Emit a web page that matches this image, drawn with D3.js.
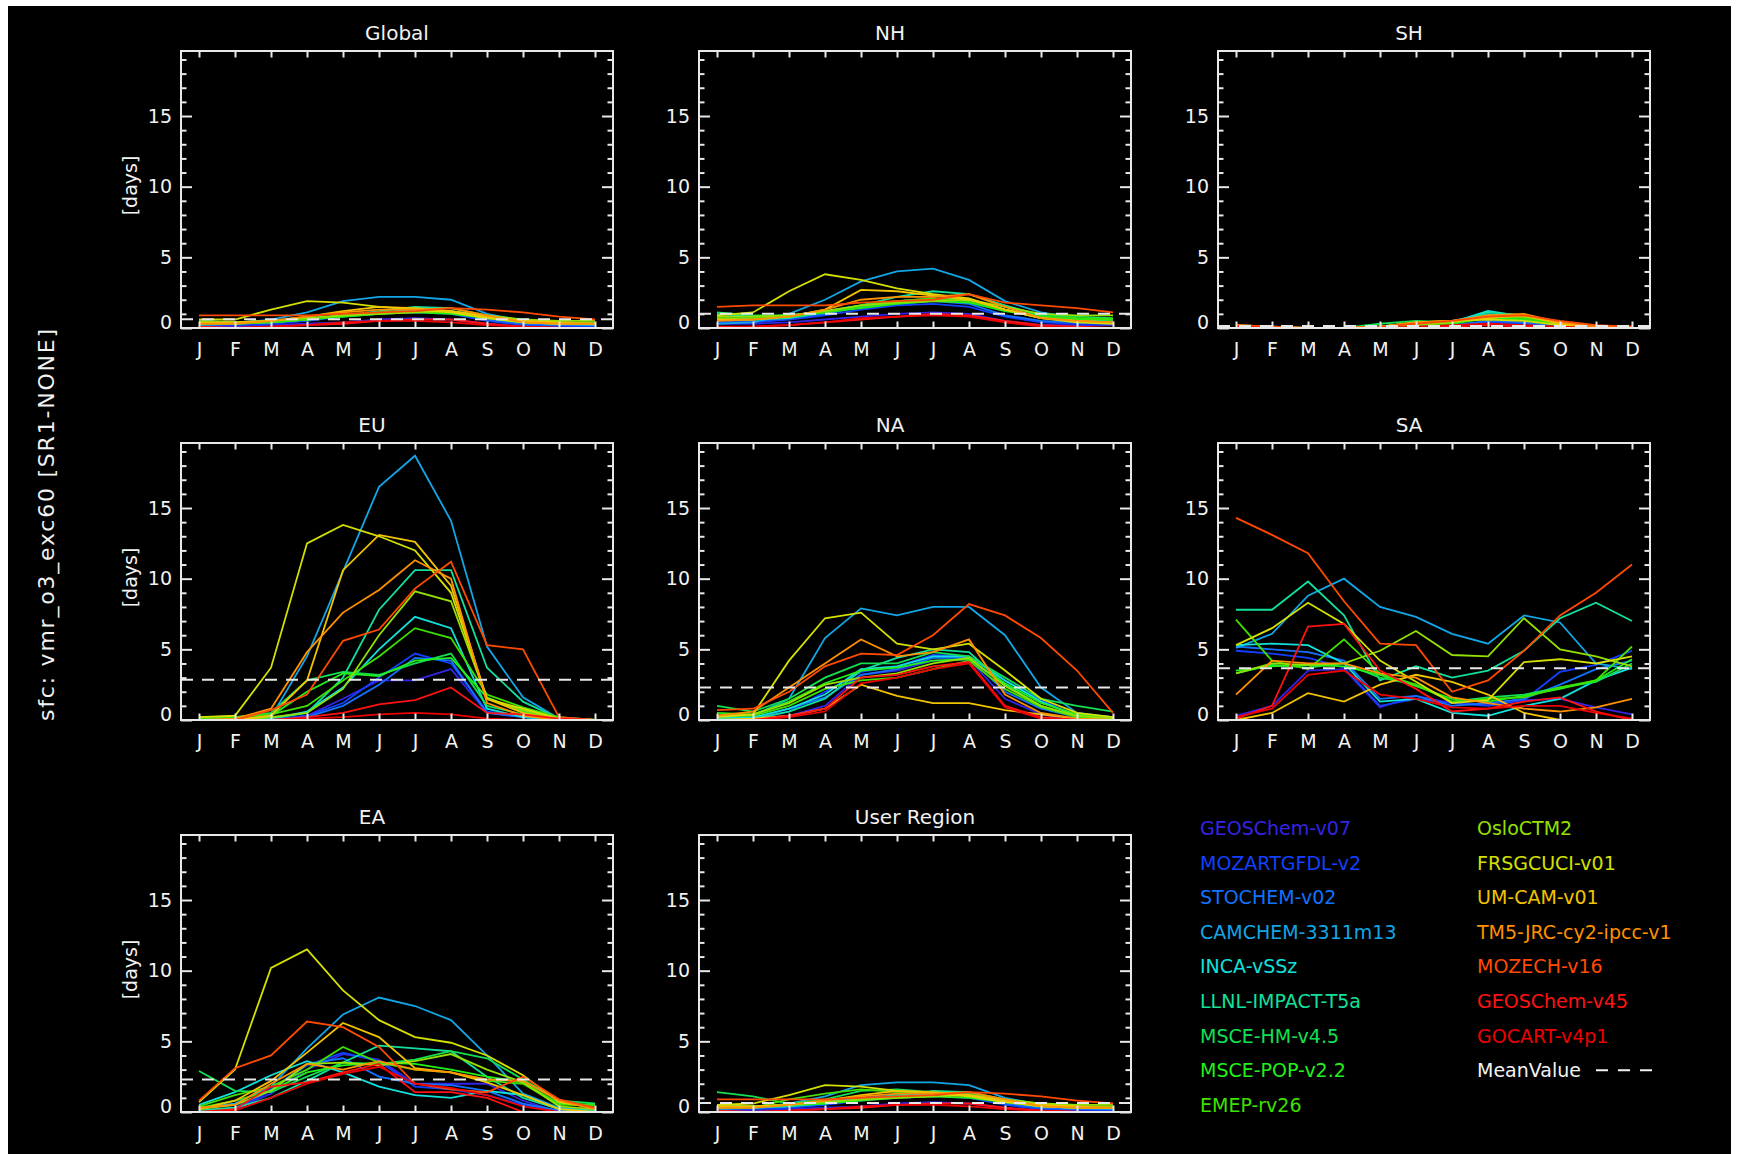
<!DOCTYPE html>
<html>
<head>
<meta charset="utf-8">
<script src="https://cdn.jsdelivr.net/npm/d3@7"></script>
<style>
  body { margin: 0; background: #ffffff; }
  text { font-family: "DejaVu Sans", sans-serif; fill: #f2f2f2; }
</style>
</head>
<body>
<div id="chart-area"></div>
<script>
// months and models
var months = ["J", "F", "M", "A", "M", "J", "J", "A", "S", "O", "N", "D"];
var models = ["GEOSChem-v07", "MOZARTGFDL-v2", "STOCHEM-v02", "CAMCHEM-3311m13", "INCA-vSSz",
  "LLNL-IMPACT-T5a", "MSCE-HM-v4.5", "MSCE-POP-v2.2", "EMEP-rv26", "OsloCTM2", "FRSGCUCI-v01",
  "UM-CAM-v01", "TM5-JRC-cy2-ipcc-v1", "MOZECH-v16", "GEOSChem-v45", "GOCART-v4p1"];
var modelColors = ["#3424e6", "#1240ff", "#1272ff", "#12a6e6", "#12e0dc", "#12e09c", "#12e052",
  "#22f018", "#3ee000", "#94e000", "#d4e000", "#f2c400", "#ff9000", "#ff4a00", "#ff1212", "#ee0000"];

var regions = ["Global", "NH", "SH", "EU", "NA", "SA", "EA", "User Region"];
var meanValues = [0.62, 1.0, 0.15, 2.85, 2.3, 3.66, 2.3, 0.63];
var yMajorTicks = [0, 5, 10, 15];

// days per month, one row per model (same order as models)
var valsGlobal = [
  [0.1,0.1,0.2,0.3,0.4,0.6,0.7,0.6,0.3,0.1,0.1,0.1],
  [0.2,0.2,0.3,0.5,0.8,1.0,1.1,1.0,0.5,0.2,0.2,0.1],
  [0.3,0.3,0.4,0.6,0.9,1.1,1.2,1.2,0.6,0.3,0.2,0.2],
  [0.2,0.3,0.6,1.1,1.9,2.2,2.2,2.0,1.0,0.5,0.3,0.2],
  [0.5,0.4,0.5,0.7,0.9,1.1,1.3,1.2,0.8,0.4,0.3,0.3],
  [0.3,0.3,0.4,0.6,0.9,1.2,1.5,1.4,0.9,0.5,0.3,0.3],
  [0.5,0.4,0.4,0.6,0.8,1.0,1.2,1.1,0.8,0.5,0.4,0.4],
  [0.4,0.4,0.5,0.6,0.8,1.0,1.1,1.0,0.7,0.4,0.3,0.3],
  [0.3,0.3,0.4,0.6,0.9,1.1,1.2,1.1,0.8,0.5,0.4,0.3],
  [0.4,0.4,0.5,0.7,0.9,1.0,1.1,1.2,0.9,0.6,0.5,0.5],
  [0.6,0.6,1.3,1.9,1.8,1.5,1.3,1.1,0.7,0.4,0.3,0.3],
  [0.4,0.4,0.5,0.8,1.2,1.5,1.4,1.2,0.8,0.5,0.4,0.3],
  [0.3,0.3,0.5,0.8,1.1,1.3,1.3,1.4,0.9,0.4,0.3,0.3],
  [0.9,0.9,0.9,0.9,1.0,1.1,1.2,1.4,1.3,1.1,0.8,0.6],
  [0.1,0.0,0.1,0.2,0.3,0.5,0.6,0.6,0.3,0.1,0.0,0.0],
  [0.0,0.0,0.1,0.2,0.4,0.5,0.5,0.4,0.2,0.1,0.0,0.0]
];
var valsNH = [
  [0.3,0.3,0.4,0.6,0.8,1.0,1.1,1.0,0.5,0.2,0.2,0.2],
  [0.4,0.4,0.6,0.9,1.3,1.6,1.7,1.5,0.8,0.4,0.3,0.3],
  [0.5,0.5,0.7,1.0,1.5,1.7,1.9,1.7,0.9,0.5,0.4,0.4],
  [0.3,0.4,1.0,2.0,3.3,4.0,4.2,3.4,1.9,1.1,0.7,0.4],
  [1.0,0.8,0.9,1.2,1.6,1.9,2.1,2.0,1.3,0.7,0.6,0.6],
  [0.6,0.6,0.7,1.1,1.6,2.2,2.6,2.4,1.6,0.9,0.6,0.6],
  [1.1,0.9,0.9,1.1,1.5,1.8,2.0,1.9,1.3,0.9,0.8,0.7],
  [0.8,0.8,0.9,1.1,1.4,1.7,1.9,1.8,1.2,0.8,0.6,0.6],
  [0.7,0.7,0.8,1.1,1.6,1.9,2.1,1.9,1.3,0.8,0.7,0.6],
  [0.8,0.8,0.9,1.2,1.6,1.8,1.9,2.0,1.5,1.0,0.9,0.9],
  [0.9,1.1,2.6,3.8,3.4,2.8,2.4,2.1,1.3,0.7,0.4,0.3],
  [0.6,0.6,0.8,1.3,2.7,2.6,2.3,2.0,1.3,0.7,0.5,0.4],
  [0.5,0.6,0.8,1.3,2.0,2.2,2.2,2.4,1.5,0.7,0.5,0.4],
  [1.5,1.6,1.6,1.6,1.8,1.9,2.0,2.4,1.8,1.6,1.4,1.1],
  [0.1,0.1,0.2,0.4,0.6,0.8,1.0,0.9,0.5,0.2,0.1,0.0],
  [0.0,0.1,0.2,0.4,0.7,0.8,0.9,0.8,0.4,0.1,0.0,0.0]
];
var valsSH = [
  [0,0,0,0,0,0.1,0.2,0.3,0.2,0,0,0],
  [0,0,0,0,0,0.1,0.2,0.4,0.3,0.1,0,0],
  [0,0,0,0,0,0.1,0.2,0.5,0.4,0.1,0,0],
  [0.1,0,0,0,0.1,0.3,0.5,1.0,0.8,0.3,0.1,0],
  [0,0,0,0,0.1,0.2,0.4,1.2,0.8,0.2,0,0],
  [0,0,0,0,0.1,0.2,0.3,1.1,0.9,0.3,0,0],
  [0.1,0,0,0,0.3,0.5,0.4,0.8,0.6,0.2,0.1,0],
  [0,0,0,0,0.1,0.2,0.3,0.7,0.6,0.2,0,0],
  [0,0,0,0,0.1,0.3,0.4,0.9,0.7,0.3,0.1,0],
  [0.1,0,0,0,0.1,0.2,0.4,0.8,0.8,0.4,0.1,0],
  [0.2,0.1,0,0,0.1,0.4,0.5,0.6,0.5,0.2,0.1,0],
  [0.1,0,0,0,0.1,0.4,0.5,0.7,0.9,0.3,0.1,0],
  [0.2,0.1,0,0,0.1,0.4,0.5,0.9,1.0,0.4,0.1,0.1],
  [0.2,0.1,0,0,0.1,0.3,0.5,0.8,0.9,0.5,0.2,0.1],
  [0,0,0,0,0,0,0.1,0.2,0.1,0,0,0],
  [0.1,0,0,0,0,0.1,0.2,0.3,0.2,0.1,0,0]
];
var valsEU = [
  [0,0,0,0.3,1.5,2.8,2.8,3.6,0.5,0.2,0,0],
  [0,0,0,0.3,1.2,3.0,4.7,4.0,0.6,0.3,0,0],
  [0,0,0,0.2,1.0,2.5,4.4,4.2,0.5,0.2,0,0],
  [0,0,0.2,4.5,10.5,16.5,18.7,14.1,5.2,1.6,0.1,0],
  [0,0,0.1,0.6,2.3,5.0,7.3,6.5,0.8,0.2,0,0],
  [0,0,0.1,0.5,3.0,7.8,10.6,10.6,3.7,1.3,0.1,0],
  [0.2,0.2,0.5,2.8,3.4,3.2,4.0,4.7,1.0,0.4,0.1,0],
  [0.1,0.1,0.3,2.0,3.3,3.1,4.2,4.4,1.6,0.6,0.1,0],
  [0.2,0.2,0.4,1.0,2.8,4.5,6.5,5.8,1.8,0.9,0.2,0],
  [0,0,0.2,0.5,2.2,6.0,9.1,8.4,1.5,0.7,0.1,0],
  [0.2,0.3,3.7,12.5,13.8,13.0,12.0,9.0,1.5,0.8,0.1,0],
  [0,0,0.3,2.8,10.6,13.1,12.6,9.5,1.5,0.5,0,0],
  [0,0.1,0.8,4.8,7.6,9.2,11.3,10.0,1.2,0.3,0,0],
  [0,0,0.7,1.8,5.6,6.4,9.3,11.2,5.3,5.0,0.2,0],
  [0,0,0,0.2,0.5,1.1,1.4,2.3,0.5,0.4,0.1,0],
  [0,0,0,0.1,0.2,0.4,0.5,0.4,0.1,0,0,0]
];
var valsNA = [
  [0,0,0.3,1.0,3.2,3.5,4.2,4.3,1.5,0.4,0,0],
  [0,0,0.6,2.0,3.4,3.8,4.6,4.5,2.8,1.4,0.3,0],
  [0.1,0.1,0.8,1.6,3.2,3.6,4.4,4.4,2.0,0.8,0.2,0],
  [0.2,0.3,1.5,5.8,7.9,7.4,8.0,8.0,6.0,2.3,0.5,0.2],
  [0.2,0.2,0.8,1.8,3.6,3.8,4.5,4.5,2.8,1.3,0.3,0.1],
  [0.1,0.1,0.6,1.5,3.5,4.4,5.0,4.8,2.5,1.0,0.2,0.1],
  [1.0,0.6,1.5,3.0,4.0,4.0,4.8,4.5,3.0,1.5,1.0,0.6],
  [0.5,0.4,1.3,2.6,3.5,3.7,4.2,4.3,2.6,1.2,0.4,0.2],
  [0.3,0.3,1.0,2.2,2.8,3.0,3.6,4.2,2.2,0.9,0.2,0.1],
  [0.3,0.4,1.2,2.5,3.0,3.3,4.0,4.4,2.4,1.0,0.3,0.1],
  [0.2,0.4,4.2,7.2,7.6,5.4,5.0,5.4,3.5,1.5,0.5,0.2],
  [0,0.1,0.3,0.8,2.5,1.7,1.2,1.2,0.7,0.4,0.1,0],
  [0.3,0.6,2.3,4.0,5.7,4.5,4.8,5.7,1.8,0.5,0.1,0],
  [0.7,0.8,2.0,3.8,4.7,4.6,6.0,8.2,7.4,5.8,3.5,0.5],
  [0,0,0.3,0.8,3.0,3.2,3.8,4.1,1.0,0.2,0,0],
  [0,0,0.2,0.6,2.6,3.0,3.6,4.0,0.9,0.1,0,0]
];
var valsSA = [
  [0.3,1.0,3.5,3.6,0.9,1.7,1.2,1.1,1.4,1.5,0.9,0.4],
  [4.9,4.7,4.4,3.7,1.0,1.5,1.2,1.0,1.4,3.4,3.9,4.9],
  [5.2,5.0,4.8,4.2,1.5,1.7,1.0,1.2,1.5,2.5,3.6,4.2],
  [5.1,6.1,8.8,10.0,8.0,7.3,6.1,5.4,7.4,6.9,4.0,3.6],
  [5.3,5.4,5.3,4.0,1.3,1.5,0.5,0.3,1.0,1.5,2.8,3.7],
  [7.8,7.8,9.8,7.4,2.8,3.8,3.0,3.5,4.9,7.2,8.3,7.0],
  [3.3,3.9,3.7,4.0,3.0,2.5,1.3,1.6,1.8,2.3,2.7,4.0],
  [3.5,3.8,3.9,3.8,3.2,2.4,1.5,1.3,1.7,2.2,2.8,4.3],
  [7.1,4.2,3.6,5.7,3.3,2.5,1.3,1.5,1.6,2.3,2.8,5.2],
  [3.3,4.0,3.9,4.0,4.9,6.3,4.6,4.5,7.2,5.0,4.5,3.8],
  [5.3,6.5,8.3,6.8,4.2,2.7,1.2,1.4,4.1,4.3,4.0,4.5],
  [0,0.5,1.9,1.3,2.5,3.2,2.7,1.8,0.5,0,0,0],
  [1.8,4.2,4.0,4.0,3.3,3.0,1.6,1.2,0.8,0.6,0.9,1.5],
  [14.3,13.1,11.8,8.4,5.4,5.3,2.0,2.8,4.9,7.4,9.0,11.0],
  [0.1,1.0,6.6,6.8,3.5,2.2,0.6,0.8,1.3,1.6,0.6,0],
  [0.2,0.8,3.2,3.5,1.8,1.5,0.9,0.8,1.0,1.0,0.5,0.1]
];
var valsEA = [
  [0,0.2,1.3,3.0,4.1,3.7,2.0,2.0,2.0,0.8,0,0],
  [0,0.2,1.5,3.3,4.2,3.6,1.8,1.6,1.2,0.5,0,0],
  [0.1,0.3,1.6,3.4,3.8,2.5,2.0,1.9,1.5,0.6,0.1,0],
  [0.3,0.6,1.8,4.5,6.9,8.1,7.5,6.5,4.0,1.3,0.3,0.1],
  [0.5,1.4,2.6,3.6,2.8,1.8,1.2,1.0,1.5,1.2,0.2,0.1],
  [0.1,0.3,1.0,2.2,3.5,4.7,4.5,4.3,2.5,1.0,0.2,0.1],
  [2.9,1.5,1.4,2.5,3.5,3.4,3.7,4.3,3.8,2.3,0.8,0.6],
  [0.3,0.8,1.5,2.8,3.3,3.5,3.4,3.0,2.5,2.1,0.6,0.5],
  [0.4,1.2,1.8,3.0,4.6,3.5,3.0,2.8,2.2,2.0,0.5,0.5],
  [0.2,0.5,1.5,3.4,3.5,3.3,3.6,4.1,3.0,2.1,0.4,0.2],
  [0.7,3.0,10.2,11.5,8.6,6.5,5.3,4.9,4.0,2.6,0.7,0.3],
  [0.2,0.8,2.2,4.2,6.3,5.3,3.1,2.8,2.1,1.2,0.2,0],
  [0.3,0.5,2.0,3.4,3.0,3.6,3.0,2.8,2.3,2.2,0.8,0.2],
  [0.8,3.1,4.0,6.4,6.0,4.6,2.0,1.6,1.4,2.5,0.9,0.3],
  [0,0.2,1.8,2.1,2.8,3.4,1.4,1.4,1.0,0,0,0],
  [0,0.1,1.0,2.0,2.7,3.2,2.0,1.7,1.2,0.4,0,0]
];
var valsUser = [
  [0.1,0.1,0.2,0.3,0.4,0.6,0.7,0.6,0.3,0.1,0.1,0.1],
  [0.2,0.2,0.3,0.5,0.8,1.0,1.1,1.0,0.5,0.2,0.2,0.1],
  [0.3,0.3,0.4,0.7,1.0,1.2,1.3,1.2,0.6,0.3,0.2,0.2],
  [0.2,0.3,0.6,1.1,1.9,2.1,2.1,1.9,1.0,0.5,0.3,0.2],
  [0.5,0.4,0.5,0.7,0.9,1.1,1.3,1.2,0.8,0.4,0.3,0.3],
  [0.3,0.3,0.4,0.6,0.9,1.2,1.5,1.4,0.9,0.5,0.3,0.3],
  [1.4,1.1,0.6,0.9,1.5,1.6,1.4,1.3,0.9,0.6,0.4,0.4],
  [0.4,0.4,0.5,0.6,0.8,1.0,1.1,1.0,0.7,0.4,0.3,0.3],
  [0.3,0.3,0.9,1.3,1.6,1.4,1.3,1.2,0.8,0.5,0.4,0.3],
  [0.4,0.4,0.5,0.7,0.9,1.0,1.1,1.2,0.9,0.6,0.5,0.5],
  [0.5,0.6,1.2,1.9,1.8,1.5,1.3,1.1,0.7,0.4,0.3,0.3],
  [0.4,0.4,0.5,0.8,1.2,1.5,1.4,1.2,0.8,0.5,0.4,0.3],
  [0.3,0.3,0.5,0.8,1.1,1.3,1.3,1.4,0.9,0.4,0.3,0.3],
  [0.9,0.9,0.9,0.9,1.0,1.1,1.2,1.4,1.3,1.1,0.8,0.6],
  [0.1,0.0,0.1,0.2,0.3,0.5,0.6,0.6,0.3,0.1,0.0,0.0],
  [0.0,0.0,0.1,0.2,0.4,0.5,0.5,0.4,0.2,0.1,0.0,0.0]
];
var regionVals = [valsGlobal, valsNH, valsSH, valsEU, valsNA, valsSA, valsEA, valsUser];

// layout
var W = 1739, H = 1154;
var pw = 432, ph = 277;
var colX = [181, 699, 1218];
var rowY = [51, 443, 835];

var svg = d3.select("#chart-area").append("svg")
    .attr("width", W)
    .attr("height", H);

// black plotting area with a thin white margin like the original image
svg.append("rect")
    .attr("x", 8).attr("y", 6)
    .attr("width", 1723).attr("height", 1148)
    .attr("fill", "#000");

var x = d3.scaleLinear().domain([0.5, 12.5]).range([0, pw]);
var y = d3.scaleLinear().domain([0, 19.6]).range([ph, 0]);
var minorTicks = d3.range(1, 20).filter(function (d) { return d % 5 !== 0; });

var line = d3.line()
    .x(function (d, i) { return x(i + 1); })
    .y(function (d) { return y(d); });

regions.forEach(function (name, r) {
    var col = r % 3, row = Math.floor(r / 3);
    var g = svg.append("g")
        .attr("transform", `translate(${colX[col]}, ${rowY[row]})`);

    // title (the short two-letter titles sit a bit left of centre in the original)
    g.append("text")
        .attr("x", pw / 2 + (name.length <= 2 ? -25 : 0))
        .attr("y", -11)
        .attr("text-anchor", "middle")
        .attr("font-size", "20px")
        .text(name);

    // series
    g.selectAll("path.series")
        .data(regionVals[r])
        .enter()
        .append("path")
        .attr("class", "series")
        .attr("d", line)
        .attr("fill", "none")
        .attr("stroke", function (d, i) { return modelColors[i]; })
        .attr("stroke-width", 1.8);

    // mean value
    g.append("line")
        .attr("x1", 0).attr("x2", pw)
        .attr("y1", y(meanValues[r])).attr("y2", y(meanValues[r]))
        .attr("stroke", "#e8e8e8")
        .attr("stroke-width", 2)
        .attr("stroke-dasharray", "12,9");

    // axes, ticks pointing inwards as in IDL plots
    var leftAxis = d3.axisLeft(y).tickValues(yMajorTicks).tickSize(-11).tickPadding(9);
    var leftG = g.append("g").attr("class", "axis").call(leftAxis);
    leftG.selectAll("text").attr("font-size", "19px").attr("fill", "#f2f2f2")
        .attr("dy", function (d) { return d === 0 ? "-0.0em" : "0.32em"; });
    g.append("g").attr("class", "axis")
        .call(d3.axisLeft(y).tickValues(minorTicks).tickSize(-5.5).tickFormat(""));
    g.append("g").attr("class", "axis").attr("transform", `translate(${pw}, 0)`)
        .call(d3.axisRight(y).tickValues(yMajorTicks).tickSize(-11).tickFormat(""));
    g.append("g").attr("class", "axis").attr("transform", `translate(${pw}, 0)`)
        .call(d3.axisRight(y).tickValues(minorTicks).tickSize(-5.5).tickFormat(""));

    var bottomG = g.append("g").attr("class", "axis")
        .attr("transform", `translate(0, ${ph})`)
        .call(d3.axisBottom(x).tickValues(d3.range(1, 13)).tickSize(-6.5).tickPadding(15)
            .tickFormat(function (d) { return months[d - 1]; }));
    bottomG.selectAll("text").attr("font-size", "19px").attr("fill", "#f2f2f2");
    g.append("g").attr("class", "axis")
        .call(d3.axisTop(x).tickValues(d3.range(1, 13)).tickSize(-6.5).tickFormat(""));

    g.selectAll(".axis .domain").remove();
    g.selectAll(".axis line").attr("stroke", "#e8e8e8").attr("stroke-width", 2);

    // frame
    g.append("rect")
        .attr("width", pw).attr("height", ph)
        .attr("fill", "none")
        .attr("stroke", "#e8e8e8")
        .attr("stroke-width", 2);

    // unit label only on the left column
    if (col === 0) {
        g.append("text")
            .attr("transform", `translate(-44, ${ph / 2 - 4}) rotate(-90)`)
            .attr("text-anchor", "middle")
            .attr("font-size", "19px")
            .text("[days]");
    }
});

// overall label
svg.append("text")
    .attr("transform", "translate(54, 525) rotate(-90)")
    .attr("text-anchor", "middle")
    .attr("font-size", "22px")
    .attr("textLength", 392)
    .attr("lengthAdjust", "spacing")
    .text("sfc: vmr_o3_exc60 [SR1-NONE]");

// legend, two columns
var legendX = [1200, 1477];
var legendY0 = 835, legendDY = 34.6;
models.forEach(function (m, i) {
    var c = i < 9 ? 0 : 1;
    var k = i < 9 ? i : i - 9;
    svg.append("text")
        .attr("x", legendX[c])
        .attr("y", legendY0 + k * legendDY)
        .attr("font-size", "19px")
        .style("fill", modelColors[i])
        .text(m);
});
svg.append("text")
    .attr("x", legendX[1])
    .attr("y", legendY0 + 7 * legendDY)
    .attr("font-size", "19px")
    .text("MeanValue");
svg.append("line")
    .attr("x1", 1596).attr("x2", 1652)
    .attr("y1", legendY0 + 7 * legendDY - 7).attr("y2", legendY0 + 7 * legendDY - 7)
    .attr("stroke", "#f2f2f2")
    .attr("stroke-width", 2)
    .attr("stroke-dasharray", "12,10");
</script>
</body>
</html>
